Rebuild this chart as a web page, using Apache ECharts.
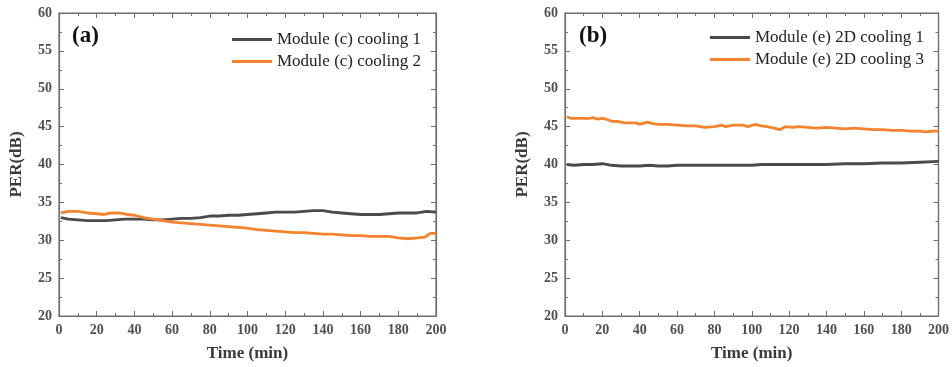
<!DOCTYPE html>
<html>
<head>
<meta charset="utf-8">
<script src="https://cdn.jsdelivr.net/npm/echarts@6/dist/echarts.min.js"></script>
<style>
    html, body { margin: 0; padding: 0; background: #fff; }
    #main { width: 952px; height: 367px; }
</style>
</head>
<body>
<div id="main"></div>
<script>
    // panel (a) - Module (c)
    var timeA1 = [1, 5, 10, 15, 20, 25, 30, 35, 40, 45, 50, 55, 60, 65, 70, 75, 80, 85, 90, 95, 100,
        105, 110, 115, 120, 125, 130, 135, 140, 145, 150, 155, 160, 165, 170, 175, 180, 185, 190, 195, 200];
    var perA1 = [33.0, 32.8, 32.7, 32.6, 32.6, 32.6, 32.7, 32.8, 32.8, 32.8, 32.7, 32.7, 32.8, 32.9, 32.9, 33.0, 33.2, 33.2, 33.3, 33.3, 33.4,
        33.5, 33.6, 33.7, 33.7, 33.7, 33.8, 33.9, 33.9, 33.7, 33.6, 33.5, 33.4, 33.4, 33.4, 33.5, 33.6, 33.6, 33.6, 33.8, 33.7];
    var timeA2 = [1, 5, 10, 15, 20, 24, 28, 32, 36, 40, 45, 50, 55, 60, 65, 70, 75, 80, 85, 90, 95, 100,
        105, 110, 115, 120, 125, 130, 135, 140, 145, 150, 155, 160, 165, 170, 175, 180, 185, 190, 194, 197, 200];
    var perA2 = [33.6, 33.8, 33.8, 33.6, 33.5, 33.4, 33.6, 33.6, 33.4, 33.3, 33.0, 32.8, 32.6, 32.4, 32.3, 32.2, 32.1, 32.0, 31.9, 31.8, 31.7, 31.6,
        31.4, 31.3, 31.2, 31.1, 31.0, 31.0, 30.9, 30.8, 30.8, 30.7, 30.6, 30.6, 30.5, 30.5, 30.5, 30.3, 30.2, 30.3, 30.4, 30.9, 30.9];

    // panel (b) - Module (e) 2D
    var timeB1 = [1, 5, 10, 15, 20, 25, 30, 35, 40, 45, 50, 55, 60, 65, 70, 80, 90, 100,
        105, 110, 120, 130, 140, 150, 160, 170, 180, 190, 200];
    var perB1 = [40.0, 39.9, 40.0, 40.0, 40.1, 39.9, 39.8, 39.8, 39.8, 39.9, 39.8, 39.8, 39.9, 39.9, 39.9, 39.9, 39.9, 39.9,
        40.0, 40.0, 40.0, 40.0, 40.0, 40.1, 40.1, 40.2, 40.2, 40.3, 40.4];
    var timeB2 = [1, 3, 6, 10, 13, 15, 17, 20, 22, 25, 28, 32, 35, 38, 40, 44, 47, 50, 55, 60, 65, 70, 75, 80, 84, 86,
        90, 95, 98, 102, 105, 108, 112, 115, 118, 122, 125, 130, 135, 140, 145, 150, 155, 160, 165, 170, 175, 180, 185, 190, 193, 197, 200];
    var perB2 = [46.3, 46.1, 46.1, 46.1, 46.1, 46.2, 46.0, 46.1, 46.0, 45.7, 45.7, 45.5, 45.5, 45.5, 45.3, 45.6, 45.4, 45.3, 45.3, 45.2, 45.1, 45.1, 44.9, 45.0, 45.2, 45.0,
        45.2, 45.2, 45.0, 45.3, 45.1, 45.0, 44.8, 44.6, 45.0, 44.9, 45.0, 44.9, 44.8, 44.9, 44.8, 44.7, 44.8, 44.7, 44.6, 44.6, 44.5, 44.5, 44.4, 44.4, 44.3, 44.4, 44.4];

    var xTicks = [0, 20, 40, 60, 80, 100, 120, 140, 160, 180, 200];
    var yTicks = [20, 25, 30, 35, 40, 45, 50, 55, 60];

    var darkGray = '#4a4a4a';
    var orange = '#f5832e';
    var frame = '#6e6e6e';
    var serif = '"Liberation Serif", "Times New Roman", serif';

    function pairs(xs, ys) {
        return xs.map(function (x, i) { return [x, ys[i]]; });
    }

    // shared look for all four sides of a panel frame
    function frameAxis(extra) {
        return Object.assign({
            type: 'value',
            axisLine: { show: true, onZero: false, lineStyle: { color: frame, width: 1.2 } },
            axisTick: { show: true, inside: true, length: 5, lineStyle: { color: frame, width: 1 } },
            minorTick: { show: true, splitNumber: 2, length: 3, lineStyle: { color: frame, width: 1 } },
            splitLine: { show: false }
        }, extra);
    }

    var tickFont = { margin: 7, fontFamily: serif, fontWeight: 'bold', fontSize: 14, color: '#505050' };
    var titleFont = { fontFamily: serif, fontWeight: 'bold', fontSize: 17, color: '#3a3a3a' };
    // top / right sides: keep the axis, blank labels
    var blankLabel = { show: true, fontSize: 1, color: 'rgba(0,0,0,0)', formatter: function () { return ''; } };

    function xAxes(gi) {
        var r = { gridIndex: gi, min: xTicks[0], max: xTicks[xTicks.length - 1], interval: 20 };
        return [
            frameAxis(Object.assign({}, r, {
                position: 'bottom', name: 'Time (min)', nameLocation: 'middle', nameGap: 29,
                nameTextStyle: titleFont, axisLabel: tickFont
            })),
            frameAxis(Object.assign({}, r, { position: 'top', axisLabel: blankLabel }))
        ];
    }

    function yAxes(gi) {
        var r = { gridIndex: gi, min: yTicks[0], max: yTicks[yTicks.length - 1], interval: 5 };
        return [
            frameAxis(Object.assign({}, r, {
                position: 'left', name: 'PER(dB)', nameLocation: 'middle', nameGap: 34, nameRotate: 90,
                nameTextStyle: titleFont, axisLabel: tickFont
            })),
            frameAxis(Object.assign({}, r, { position: 'right', axisLabel: blankLabel }))
        ];
    }

    function line(name, data, color, xi, yi) {
        return {
            name: name, type: 'line', data: data, xAxisIndex: xi, yAxisIndex: yi,
            showSymbol: false, symbol: 'none', smooth: false,
            lineStyle: { color: color, width: 2.8 }, itemStyle: { color: color }
        };
    }

    var legendText = { fontFamily: serif, fontSize: 17, color: '#222' };

    var chart = echarts.init(document.getElementById('main'), null, { renderer: 'canvas' });
    chart.setOption({
        backgroundColor: '#fff',
        animation: false,
        grid: [
            { left: 59, top: 13, width: 377, height: 303, show: true, borderColor: frame, borderWidth: 1.2 },
            { left: 565, top: 13, width: 376, height: 303, show: true, borderColor: frame, borderWidth: 1.2 }
        ],
        xAxis: xAxes(0).concat(xAxes(1)),
        yAxis: yAxes(0).concat(yAxes(1)),
        legend: [
            {
                data: ['Module (c) cooling 1', 'Module (c) cooling 2'],
                orient: 'vertical', left: 232, top: 31, padding: 0, icon: 'rect',
                itemWidth: 40, itemHeight: 3, itemGap: 5, textStyle: legendText
            },
            {
                data: ['Module (e) 2D cooling 1', 'Module (e) 2D cooling 3'],
                orient: 'vertical', left: 710, top: 29, padding: 0, icon: 'rect',
                itemWidth: 40, itemHeight: 3, itemGap: 5, textStyle: legendText
            }
        ],
        graphic: [
            { type: 'text', left: 72, top: 25, style: { text: '(a)', font: 'bold 23px ' + serif, fill: '#111' } },
            { type: 'text', left: 579, top: 25, style: { text: '(b)', font: 'bold 23px ' + serif, fill: '#111' } }
        ],
        series: [
            line('Module (c) cooling 1', pairs(timeA1, perA1), darkGray, 0, 0),
            line('Module (c) cooling 2', pairs(timeA2, perA2), orange, 0, 0),
            line('Module (e) 2D cooling 1', pairs(timeB1, perB1), darkGray, 2, 2),
            line('Module (e) 2D cooling 3', pairs(timeB2, perB2), orange, 2, 2)
        ]
    });
</script>
</body>
</html>
